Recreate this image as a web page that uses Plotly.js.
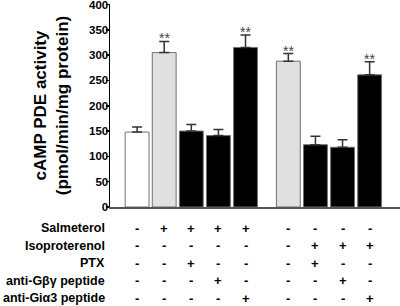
<!DOCTYPE html>
<html>
<head>
<meta charset="utf-8">
<script src="https://cdn.plot.ly/plotly-3.0.1.min.js"></script>
<style>
  html, body { margin: 0; padding: 0; background: #fff; }
  #chart { width: 400px; height: 306px; }
</style>
</head>
<body>
<div id="chart"></div>
<script>
// ---- data ----
const conditions = ['Control', 'Salmeterol', 'Salmeterol + PTX', 'Salmeterol + anti-Gβγ', 'Salmeterol + anti-Giα3',
                    'Control 2', 'Isoproterenol + PTX', 'Isoproterenol + anti-Gβγ', 'Isoproterenol + anti-Giα3'];
const pdeActivity = [148, 305, 150, 141, 315, 288, 123, 118, 261];
const semValues = [10, 22, 13, 12, 25, 15, 17, 15, 26];
const significance = ['', '**', '', '', '**', '**', '', '', '**'];
const rowLabels = ['Salmeterol', 'Isoproterenol', 'PTX', 'anti-Gβγ peptide', 'anti-Giα3 peptide'];
const rowSalmeterol    = ['-', '+', '+', '+', '+', '-', '-', '-', '-'];
const rowIsoproterenol = ['-', '-', '-', '-', '-', '-', '+', '+', '+'];
const rowPTX           = ['-', '-', '+', '-', '-', '-', '+', '-', '-'];
const rowAntiGbg       = ['-', '-', '-', '+', '-', '-', '-', '+', '-'];
const rowAntiGia3      = ['-', '-', '-', '-', '+', '-', '-', '-', '+'];
const treatmentRows = [rowSalmeterol, rowIsoproterenol, rowPTX, rowAntiGbg, rowAntiGia3];
const yTickValues = [0, 50, 100, 150, 200, 250, 300, 350, 400];

// ---- styling / layout constants ----
const barColors = ['#ffffff', '#e0e0e0', '#000000', '#000000', '#000000', '#e0e0e0', '#000000', '#000000', '#000000'];
const groupGap = 0.58;
const xs = conditions.map((_, i) => i + (i >= 5 ? groupGap : 0));
const M = { l: 110, r: 0, t: 4, b: 99 };
const plotH = 306 - M.t - M.b;
const plotBottomPx = 306 - M.b;
const font = 'Liberation Sans, Arial, Helvetica, sans-serif';
const rowY0 = 228.3, rowStep = 17.5;

const trace = {
  type: 'bar',
  x: xs,
  y: pdeActivity,
  text: conditions,
  hoverinfo: 'text+y',
  textposition: 'none',
  width: 0.88,
  marker: { color: barColors, line: { color: '#707070', width: 1 } },
  error_y: {
    type: 'data', symmetric: false, array: semValues,
    arrayminus: semValues.map(() => 0),
    color: '#333', thickness: 1.5, width: 5
  }
};

const annotations = [];
// significance marks
significance.forEach((s, i) => {
  if (!s) return;
  annotations.push({
    x: xs[i], y: pdeActivity[i] + semValues[i], xref: 'x', yref: 'y',
    text: s, showarrow: false, xanchor: 'center', yanchor: 'middle', yshift: 3,
    font: { family: font, size: 14, color: '#444' }
  });
});
// treatment table
treatmentRows.forEach((row, r) => {
  const ypx = rowY0 + r * rowStep;
  const yp = (plotBottomPx - ypx) / plotH;
  annotations.push({
    x: -3 / 290, y: yp, xref: 'paper', yref: 'paper',
    text: '<b>' + rowLabels[r] + '</b>', showarrow: false, xanchor: 'right', yanchor: 'middle',
    font: { family: font, size: 12.5, color: '#000' }
  });
  row.forEach((sym, i) => {
    annotations.push({
      x: xs[i], y: yp, xref: 'x', yref: 'paper',
      text: '<b>' + sym + '</b>', showarrow: false, xanchor: 'center', yanchor: 'middle',
      font: { family: font, size: 13, color: '#000' }
    });
  });
});

const layout = {
  width: 400, height: 306,
  margin: M,
  paper_bgcolor: '#fff', plot_bgcolor: '#fff',
  showlegend: false,
  bargap: 0,
  xaxis: {
    range: [-1, 9.7], showgrid: false, zeroline: false,
    showline: true, linecolor: '#555', linewidth: 1.5,
    ticks: '', showticklabels: false, fixedrange: true
  },
  yaxis: {
    range: [0, 401], tickvals: yTickValues, ticktext: yTickValues.map(v => '<b>' + v + '</b>'),
    ticklabeloverflow: 'allow', ticklabelstandoff: -5,
    showgrid: false, zeroline: false,
    showline: true, linecolor: '#000', linewidth: 1.5,
    ticks: 'outside', ticklen: 3, tickwidth: 1.5, tickcolor: '#000',
    tickfont: { family: font, size: 11.5, color: '#000' },
    title: {
      text: '<b>cAMP PDE activity</b><br><b>(pmol/min/mg protein)</b>',
      font: { family: font, size: 17, color: '#000' },
      standoff: 16
    },
    fixedrange: true
  },
  annotations: annotations
};

Plotly.newPlot('chart', [trace], layout, { displayModeBar: false, staticPlot: true });
</script>
</body>
</html>
